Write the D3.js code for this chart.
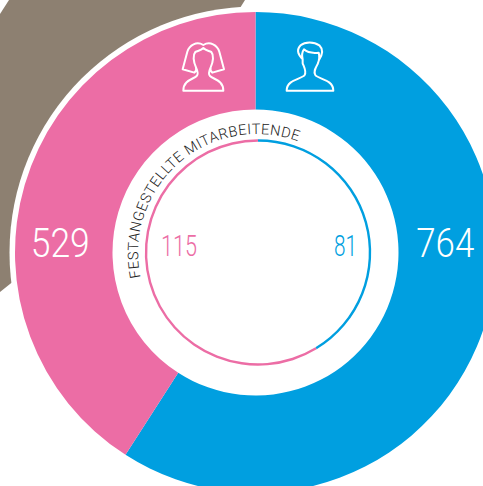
<!DOCTYPE html>
<html>
<head>
<meta charset="utf-8">
<script src="https://cdn.jsdelivr.net/npm/d3@7"></script>
<style>
html, body { margin: 0; padding: 0; background: #fff; }
svg { display: block; }
text { font-family: Roboto, sans-serif; font-weight: 300; }
</style>
</head>
<body>
<svg width="483" height="486"></svg>
<script>
var categories = ["Männer", "Frauen"]
var gesamt = [764, 529]
var festangestellt = [81, 115]
var farben = ["#009FE0", "#EC6DA5"]
var titel = "FESTANGESTELLTE MITARBEITENDE"

var svg = d3.select("svg")

var cx = 255.5, cy = 252.5
var outerR = 240.5, innerR = 143, whiteR = 246
var ringX = 258, ringY = 252.5, ringR = 112

// grey piece behind the donut, mostly hidden by the white disc
var grau = [[0, 14], [9, 0], [245, 0], [125, 192], [10, 284], [0, 292]]
svg.append("path")
    .attr("d", d3.line()(grau) + "Z")
    .attr("fill", "#8D8071")

svg.append("circle")
    .attr("cx", cx).attr("cy", cy).attr("r", whiteR)
    .attr("fill", "#fff")

var pie = d3.pie().sort(null)

var arcOuter = d3.arc().innerRadius(innerR).outerRadius(outerR)
svg.append("g")
    .attr("transform", "translate(" + cx + "," + cy + ")")
    .selectAll("path")
    .data(pie(gesamt))
    .enter().append("path")
    .attr("d", arcOuter)
    .attr("fill", function (d, i) { return farben[i] })

var arcInner = d3.arc().innerRadius(ringR - 1.2).outerRadius(ringR + 1.2)
svg.append("g")
    .attr("transform", "translate(" + ringX + "," + ringY + ")")
    .selectAll("path")
    .data(pie(festangestellt))
    .enter().append("path")
    .attr("d", arcInner)
    .attr("fill", function (d, i) { return farben[i] })

// big numbers, mid ring left and right
var midR = (innerR + outerR) / 2
svg.selectAll(".gesamt")
    .data(gesamt)
    .enter().append("text")
    .attr("class", "gesamt")
    .attr("x", function (d, i) { return i == 0 ? cx + midR - 2 : cx - midR - 3.5 })
    .attr("y", cy + 4.5)
    .attr("text-anchor", "middle")
    .attr("font-size", 40)
    .attr("textLength", function (d, i) { return i == 0 ? 58 : 59 })
    .attr("lengthAdjust", "spacingAndGlyphs")
    .attr("fill", "#fff")
    .text(function (d) { return d })

svg.selectAll(".fest")
    .data(festangestellt)
    .enter().append("text")
    .attr("class", "fest")
    .attr("x", function (d, i) { return i == 0 ? ringX + ringR - 13 : ringX - ringR + 15 })
    .attr("y", cy + 3.5)
    .attr("text-anchor", function (d, i) { return i == 0 ? "end" : "start" })
    .attr("font-size", 30)
    .attr("textLength", function (d, i) { return i == 0 ? 23 : 36 })
    .attr("lengthAdjust", "spacingAndGlyphs")
    .attr("fill", function (d, i) { return farben[i] })
    .text(function (d) { return d })

// curved title
var titelR = 119
var titelStart = -101.8 * Math.PI / 180
var titelEnd = 20 * Math.PI / 180
var titelPfad = d3.path()
titelPfad.arc(257, 253, titelR, titelStart - Math.PI / 2, titelEnd - Math.PI / 2)
svg.append("defs").append("path")
    .attr("id", "titelPfad")
    .attr("d", titelPfad.toString())
svg.append("text")
    .attr("font-size", 14.5)
    .attr("fill", "#222")
    .append("textPath")
    .attr("href", "#titelPfad")
    .attr("textLength", titelR * (titelEnd - titelStart))
    .text(titel)

// icons, drawn in a 3x box like the source artwork
var frau = "M52,65 C58,45 80,33 100,45 C120,33 142,45 148,65 L162,118 L127,128 C122,125 120,120 122,112 C130,95 132,75 124,66 C116,62 108,62 100,54 C92,62 84,62 76,66 C68,75 70,95 78,112 C80,120 78,125 73,128 L38,118 Z"
    + " M78,112 C84,125 86,132 80,138 C70,148 40,150 40,182 L160,182 C160,150 130,148 120,138 C114,132 116,125 122,112"
var mann = "M398,88 C385,75 378,60 392,46 C405,35 432,35 448,46 C462,60 458,75 446,92"
    + " M398,88 C394,72 396,66 402,58 C415,70 430,70 446,68 C450,80 448,90 443,102 C436,115 430,125 436,135 C445,148 490,148 490,182 L350,182 C350,148 395,148 404,135 C410,125 404,115 398,100 Z"
svg.append("g")
    .attr("transform", "translate(170,30) scale(0.3333)")
    .selectAll("path")
    .data([frau, mann])
    .enter().append("path")
    .attr("d", function (d) { return d })
    .attr("fill", "none")
    .attr("stroke", "#fff")
    .attr("stroke-width", 6)
    .attr("stroke-linejoin", "round")
</script>
</body>
</html>
